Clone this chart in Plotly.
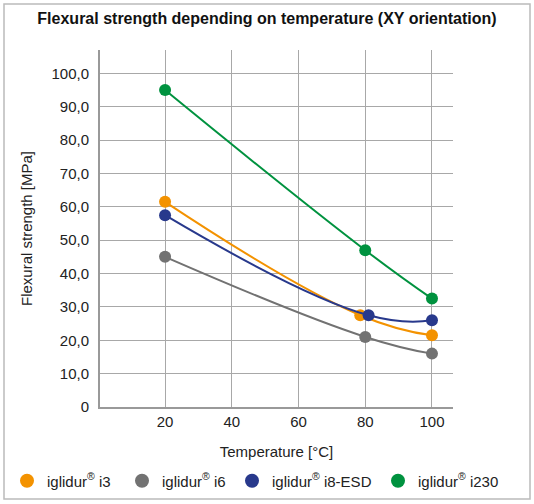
import plotly.graph_objects as go

series_names = ["iglidur<sup>®</sup> i3", "iglidur<sup>®</sup> i6", "iglidur<sup>®</sup> i8-ESD", "iglidur<sup>®</sup> i230"]
x_i3 = [20, 78.5, 100]
y_i3 = [61.5, 27.5, 21.5]
x_i6 = [20, 80, 100]
y_i6 = [45, 21, 16]
x_i8 = [20, 81, 100]
y_i8 = [57.5, 27.5, 26]
x_i230 = [20, 80, 100]
y_i230 = [95, 47, 32.5]
colors = ["#F39200", "#727272", "#28398C", "#00923F"]

y_tickvals = [0, 10, 20, 30, 40, 50, 60, 70, 80, 90, 100]
y_ticktext = ["0", "10,0", "20,0", "30,0", "40,0", "50,0", "60,0", "70,0", "80,0", "90,0", "100,0"]
x_tickvals = [20, 40, 60, 80, 100]

W, H = 534, 504
L, R, T, B = 100, 81, 50, 97
pw, ph = W - L - R, H - T - B

legend_ids = ["legend", "legend2", "legend3", "legend4"]
legend_left_px = [7, 122, 232, 378]

fig = go.Figure()
for i, (name, xs, ys, c) in enumerate(zip(series_names, [x_i3, x_i6, x_i8, x_i230],
                                          [y_i3, y_i6, y_i8, y_i230], colors)):
    fig.add_trace(go.Scatter(
        x=xs, y=ys, name=name, mode="lines+markers", legendgroup=str(i),
        showlegend=False,
        line=dict(color=c, width=2, shape="spline", smoothing=1.3),
        marker=dict(color=c, size=12),
    ))
    # legend-only entry drawn as a plain dot, like the reference
    fig.add_trace(go.Scatter(
        x=[None], y=[None], name=name, mode="markers", legendgroup=str(i),
        marker=dict(color=c, size=14), showlegend=True, legend=legend_ids[i],
    ))

def px_x(p):
    return (p - L) / pw

def px_y(p):
    return (H - B - p) / ph

legend_defs = {}
for lid, lx in zip(legend_ids, legend_left_px):
    legend_defs[lid] = dict(orientation="h", xref="container", yref="container",
                            x=lx / W, y=1 - 481 / H, xanchor="left", yanchor="middle",
                            font=dict(size=15, color="#222222"),
                            bgcolor="rgba(0,0,0,0)", borderwidth=0)

fig.update_layout(
    width=W, height=H,
    margin=dict(l=L, r=R, t=T, b=B, autoexpand=False),
    paper_bgcolor="white", plot_bgcolor="white",
    font=dict(family="Liberation Sans, Arial, sans-serif", size=15, color="#222222"),
    title=dict(text="<b>Flexural strength depending on temperature (XY orientation)</b>",
               x=0.5, xref="container", y=1 - 18 / H, yref="container",
               xanchor="center", yanchor="middle",
               font=dict(size=16, color="#111111")),
    showlegend=True,
    shapes=[dict(type="rect", xref="paper", yref="paper",
                 x0=px_x(4), x1=px_x(530), y0=px_y(499), y1=px_y(4),
                 line=dict(color="#BBBBBB", width=1.5), layer="below")],
    **legend_defs,
)
fig.update_xaxes(range=[0.5, 106.3], tickvals=x_tickvals, showgrid=True,
                 gridcolor="#A8A8A8", gridwidth=1, showline=True,
                 linecolor="#999999", linewidth=2, zeroline=False,
                 ticks="", automargin=False,
                 title=dict(text="Temperature [°C]", standoff=17,
                            font=dict(size=15)))
fig.update_yaxes(range=[0, 107], tickvals=y_tickvals, ticktext=y_ticktext,
                 showgrid=True, gridcolor="#A8A8A8", gridwidth=1, showline=True,
                 linecolor="#999999", linewidth=2, zeroline=False,
                 ticks="", ticklabelstandoff=6, automargin=False,
                 title=dict(text="Flexural strength [MPa]", standoff=15,
                            font=dict(size=15)))

fig.write_html("out.html", config={"displayModeBar": False},
               post_script="document.body.style.margin='0';")
